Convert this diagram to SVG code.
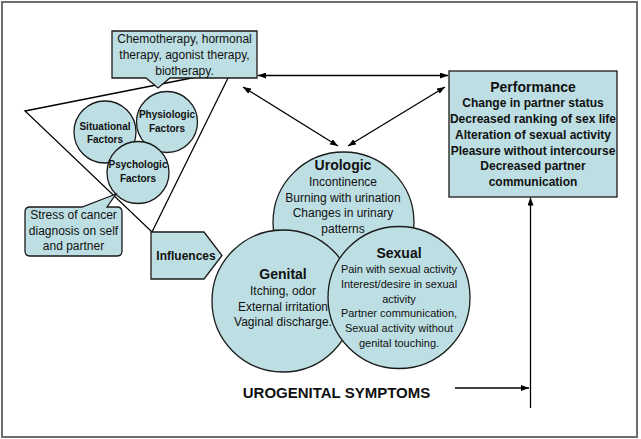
<svg xmlns="http://www.w3.org/2000/svg" width="641" height="439" viewBox="0 0 641 439">
<defs>
<marker id="ah" viewBox="0 0 8 6" refX="8" refY="3" markerWidth="8" markerHeight="6" markerUnits="userSpaceOnUse" orient="auto-start-reverse">
<path d="M0,0 L8,3 L0,6 Z" fill="#000"/>
</marker>
</defs>
<style>
.shape{fill:#bddfe3;stroke:#1a1a1a;stroke-width:1.3}
.line{fill:none;stroke:#000;stroke-width:1.3}
text{font-family:"Liberation Sans",Arial,sans-serif;fill:#111;text-anchor:middle}
.r12{font-size:12px}
.r11{font-size:11px}
.b10{font-size:10px;font-weight:bold}
.b12{font-size:12px;font-weight:bold}
.b14{font-size:14px;font-weight:bold}
.b15{font-size:15px;font-weight:bold}
</style>
<rect x="2" y="2" width="635" height="435" fill="#fff" stroke="#6e6e6e" stroke-width="2"/>

<g id="funnel">
<polygon points="25,111 232,70 152,232" fill="none" stroke="#000" stroke-width="1.3"/>
</g>

<g id="treatment">
<path class="shape" d="M112,31 H257 V78 H170 L158,88 L146,78 H112 Z"/>
<text class="r12" x="184.5" y="43">Chemotherapy, hormonal</text>
<text class="r12" x="184.5" y="59">therapy, agonist therapy,</text>
<text class="r12" x="184.5" y="75">biotherapy.</text>
</g>

<g id="situational">
<circle class="shape" cx="105" cy="132" r="31"/>
<text class="b10" x="105" y="129.5">Situational</text>
<text class="b10" x="105" y="142.5">Factors</text>
</g>
<g id="physiologic">
<circle class="shape" cx="167" cy="122" r="30.5"/>
<text class="b10" x="167" y="117.5">Physiologic</text>
<text class="b10" x="167" y="131.5">Factors</text>
</g>
<g id="psychologic">
<circle class="shape" cx="138" cy="172.5" r="31"/>
<text class="b10" x="138" y="167.5">Psychologic</text>
<text class="b10" x="138" y="181.5">Factors</text>
</g>

<g id="stress">
<path class="shape" d="M30,207 H82 L116,194 L107,207 H117 Q122,207 122,212 V251 Q122,256 117,256 H30 Q25,256 25,251 V212 Q25,207 30,207 Z"/>
<text class="r12" x="73.5" y="219">Stress of cancer</text>
<text class="r12" x="73.5" y="235">diagnosis on self</text>
<text class="r12" x="73.5" y="250">and partner</text>
</g>

<g id="influences">
<polygon class="shape" points="151,232 204,232 222,255.5 204,279 151,279"/>
<text class="b12" x="186" y="259.5">Influences</text>
</g>

<g id="urologic">
<circle class="shape" cx="343.5" cy="222.5" r="70.5"/>
<text class="b14" x="343" y="170">Urologic</text>
<text class="r12" x="343" y="186">Incontinence</text>
<text class="r12" x="343" y="201.5">Burning with urination</text>
<text class="r12" x="343" y="217">Changes in urinary</text>
<text class="r12" x="343" y="233">patterns</text>
</g>

<g id="genital">
<circle class="shape" cx="283" cy="301" r="71"/>
<text class="b14" x="283" y="278.5">Genital</text>
<text class="r12" x="283" y="295">Itching, odor</text>
<text class="r12" x="283" y="310.5">External irritation</text>
<text class="r12" x="283" y="326">Vaginal discharge.</text>
</g>

<g id="sexual">
<circle class="shape" cx="399" cy="297.5" r="71"/>
<text class="b14" x="399" y="258">Sexual</text>
<text class="r11" x="399" y="273">Pain with sexual activity</text>
<text class="r11" x="399" y="288">Interest/desire in sexual</text>
<text class="r11" x="399" y="303">activity</text>
<text class="r11" x="399" y="317">Partner communication,</text>
<text class="r11" x="399" y="332">Sexual activity without</text>
<text class="r11" x="399" y="347">genital touching.</text>
</g>

<g id="performance">
<rect class="shape" x="449" y="71" width="168" height="126"/>
<text class="b14" x="533" y="92">Performance</text>
<text class="b12" x="533" y="107">Change in partner status</text>
<text class="b12" x="533" y="123">Decreased ranking of sex life</text>
<text class="b12" x="533" y="139">Alteration of sexual activity</text>
<text class="b12" x="533" y="155">Pleasure without intercourse</text>
<text class="b12" x="533" y="170">Decreased partner</text>
<text class="b12" x="533" y="186">communication</text>
</g>

<g id="symptoms-label">
<text class="b15" x="336.5" y="398">UROGENITAL SYMPTOMS</text>
</g>

<g id="connectors">
<line class="line" x1="258" y1="75.5" x2="448" y2="75.5" marker-start="url(#ah)" marker-end="url(#ah)"/>
<line class="line" x1="243" y1="87" x2="338" y2="146" marker-start="url(#ah)" marker-end="url(#ah)"/>
<line class="line" x1="445" y1="87" x2="348" y2="146" marker-start="url(#ah)" marker-end="url(#ah)"/>
<line class="line" x1="455" y1="388" x2="529" y2="388" marker-end="url(#ah)"/>
<line class="line" x1="530.5" y1="408" x2="530.5" y2="197.5" marker-end="url(#ah)"/>
</g>
</svg>
